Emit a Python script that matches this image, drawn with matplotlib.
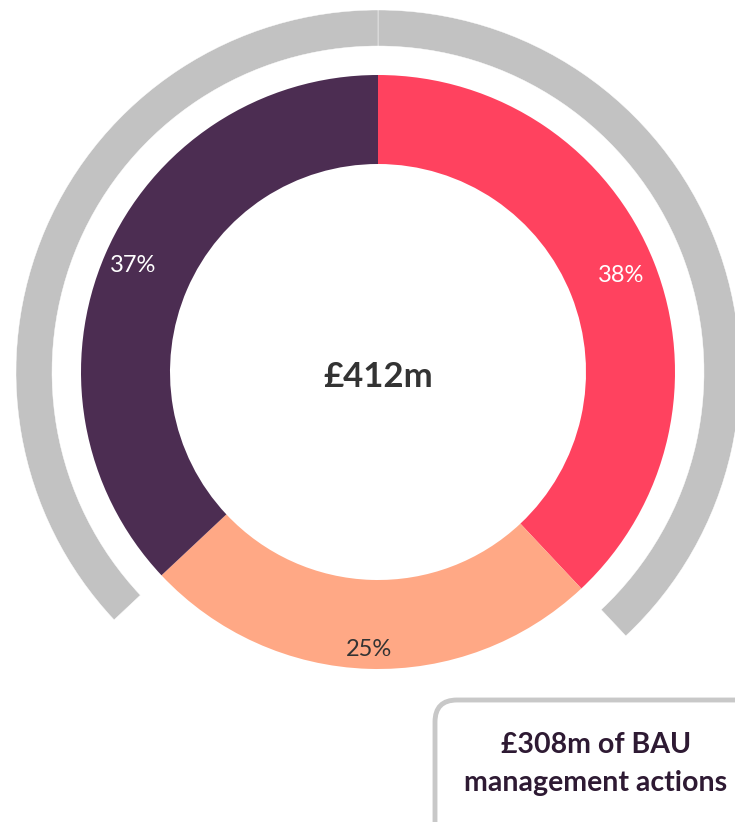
import numpy as np
import matplotlib.pyplot as plt
from matplotlib.patches import FancyBboxPatch

plt.rcParams['font.family'] = ['Lato', 'DejaVu Sans']

shares = [38, 25, 37]
colors = ['#FF425F', '#FFA885', '#4C2D52']
label_colors = ['white', '#333333', 'white']
label_dist = [0.88, 0.935, 0.9]
ring_colors = ['#C2C2C2', 'none', '#C2C2C2']
total_label = '£412m'
box_text = '£308m of BAU\nmanagement actions'

W, H = 735, 822
fig = plt.figure(figsize=(W / 100, H / 100), dpi=100)
ax = fig.add_axes([0, 0, 1, 1])

cx, cy = 378, H - 372
r_out = 297

# outer grey ring (only for the two big segments)
ax.pie(shares, colors=ring_colors, startangle=90, counterclock=False,
       center=(cx, cy), radius=362, frame=True,
       wedgeprops=dict(width=36, edgecolor='white', linewidth=0.3))
for w in ax.patches:
    if w.get_facecolor()[3] == 0:
        w.set_edgecolor('none')

wedges, texts = ax.pie(
    shares, colors=colors, startangle=90, counterclock=False,
    center=(cx, cy), radius=r_out, frame=True,
    wedgeprops=dict(width=89, linewidth=0))

for w, s, c, d in zip(wedges, shares, label_colors, label_dist):
    ang = np.deg2rad((w.theta1 + w.theta2) / 2)
    ax.text(cx + d * r_out * np.cos(ang), cy + d * r_out * np.sin(ang),
            f'{s}%', ha='center', va='center', fontsize=17, color=c)

ax.set_xlim(0, W)
ax.set_ylim(0, H)
ax.set_aspect('equal')
ax.axis('off')

ax.text(cx, cy - 5, total_label, ha='center', va='center',
        fontsize=25, fontweight='bold', color='#333333')

box = FancyBboxPatch((435, -30), 324, 152,
                     boxstyle='round,pad=0,rounding_size=22',
                     facecolor='white', edgecolor='#C8C8C8', linewidth=3.5)
ax.add_patch(box)
ax.text(596, H - 764, box_text, ha='center', va='center', fontsize=20.5,
        fontweight='bold', color='#2E1A33', linespacing=1.55)

fig.savefig('out.png', dpi=100)
